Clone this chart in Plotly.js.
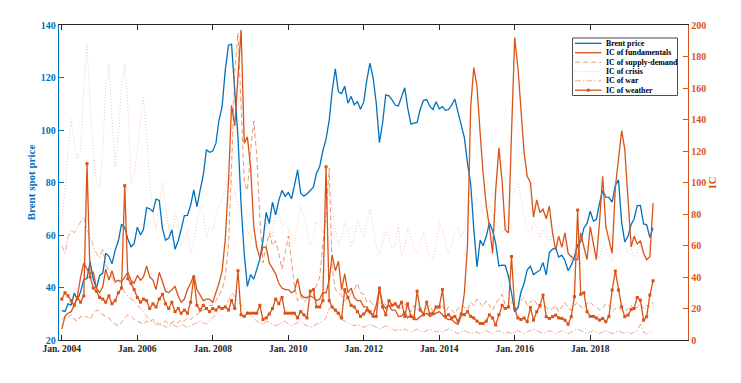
<!DOCTYPE html>
<html><head><meta charset="utf-8">
<script src="https://cdn.plot.ly/plotly-3.0.1.min.js"></script>
<style>html,body{margin:0;padding:0;background:#fff}#chart{width:741px;height:383px}</style>
</head><body><div id="chart"></div>
<script>
const startYear = 2004;
const tickLabels = ['Jan. 2004','Jan. 2006','Jan. 2008','Jan. 2010','Jan. 2012','Jan. 2014','Jan. 2016','Jan. 2018'];
const tickDates = ['2004-01-01','2006-01-01','2008-01-01','2010-01-01','2012-01-01','2014-01-01','2016-01-01','2018-01-01'];
const seriesNames = ['Brent price','IC of fundamentals','IC of supply-demand','IC of crisis','IC of war','IC of weather'];

const brent = [
31.2,30.9,33.8,33.4,37.9,35.2,38.4,43.0,43.4,49.8,43.1,39.6,
44.5,45.5,53.1,51.9,49.0,54.3,57.6,64.1,62.9,58.5,55.5,56.7,
63.0,60.0,62.1,70.4,70.0,68.9,73.7,73.2,62.5,58.0,58.8,62.0,
54.6,57.8,62.1,67.4,67.5,71.3,77.2,70.8,77.1,82.8,92.5,91.5,
92.0,95.0,103.7,109.1,122.8,132.3,132.7,113.2,97.2,71.6,52.5,40.4,
44.9,43.2,46.8,50.8,57.9,68.6,64.4,72.5,67.7,73.2,77.0,74.7,
76.2,73.8,78.8,84.8,75.9,74.8,75.6,77.1,78.2,83.5,86.1,92.0,
96.5,103.7,114.6,123.3,114.5,113.9,116.7,110.2,112.8,109.6,110.8,107.9,
110.7,119.3,125.5,119.8,110.3,95.2,102.6,113.4,113.0,111.5,109.5,109.2,
112.3,116.1,108.5,102.3,102.6,102.9,107.9,111.3,111.6,109.1,107.8,110.8,
108.1,108.9,107.5,107.8,109.5,111.8,106.8,101.6,97.1,87.4,79.4,62.3,
47.8,58.1,55.9,59.5,64.6,61.7,56.8,48.2,48.5,48.4,44.3,38.0,
30.7,32.2,38.2,41.6,46.7,48.1,44.9,45.8,46.6,49.5,44.8,53.3,
54.6,55.0,51.6,52.3,50.3,46.4,48.5,51.7,56.2,57.5,62.7,64.4,
69.1,65.3,66.0,72.1,76.9,74.4,74.3,72.5,78.9,81.0,64.8,57.4,
59.4,64.0,66.1,71.2,71.3,64.2,63.9,59.0,62.8];

const icFundamentals = [
7,15,17,18,22,28,40,49,45,42,43,33,
30,34,45,38,44,37,38,37,40,43,38,36,
41,38,40,47,40,38,32,43,37,31,30,32,
34,28,24,26,32,36,41,32,28,25,26,26,
24,30,36,44,64,100,149,136,170,197,125,129,
110,72,59,52,59,59,49,45,42,36,33,32,
32,30,31,39,29,27,27,28,27,25,26,30,
30,38,54,44,50,32,42,30,33,27,25,25,
21,21,17,16,22,33,23,20,22,19,19,15,
15,18,14,16,13,13,15,16,17,15,16,17,
18,16,14,13,13,11,10,15,30,60,148,173,
161,131,106,85,72,55,95,122,101,70,68,131,
192,173,146,119,104,100,78,89,81,83,77,85,
68,57,66,59,68,55,53,51,51,68,59,51,
72,60,51,75,104,72,63,55,97,116,133,121,
89,59,66,61,63,55,51,53,87];

const icSupplyDemand = [
13,15,14,16,13,12,15,14,15,13,17,19,
18,16,15,14,12,10,9,11,14,16,15,13,
12,11,10,12,11,13,12,10,11,12,10,11,
12,11,13,12,14,13,15,16,18,19,20,22,
22,25,28,32,40,60,110,170,195,150,100,95,
120,139,118,78,49,60,68,60,63,55,45,55,
66,50,35,25,28,24,26,30,28,35,40,60,
80,109,46,32,30,28,25,27,30,32,36,30,
29,24,25,22,20,23,25,22,20,24,22,19,
21,23,20,18,22,19,21,17,20,22,18,19,
20,22,18,21,19,17,20,22,21,19,24,22,
26,23,21,25,22,19,23,26,29,22,20,24,
23,21,25,27,22,24,26,23,20,22,21,19,
20,22,18,21,24,20,19,22,24,21,20,23,
24,22,21,19,20,23,22,18,20,21,19,18,
20,22,19,21,23,20,22,21,24];

const icCrisis = [
75,95,120,140,125,115,120,160,188,150,120,100,
97,120,160,175,140,110,130,160,175,150,100,105,
120,140,154,130,100,80,70,85,100,85,70,65,
80,75,60,65,70,55,62,75,85,80,65,72,
70,80,85,90,95,105,100,95,85,80,75,70,
65,70,60,55,60,75,70,65,85,80,72,75,
70,60,62,75,85,80,70,60,65,75,72,68,
80,97,85,70,60,65,75,68,59,65,76,70,
65,75,83,70,60,54,62,70,65,58,60,72,
53,60,71,65,58,55,62,68,60,52,51,60,
75,70,62,55,60,68,72,65,70,80,93,85,
90,88,80,78,85,80,75,72,68,70,80,90,
95,100,90,78,70,68,75,72,65,70,66,62,
68,65,60,58,62,55,50,58,52,48,55,60,
58,62,55,52,60,58,55,50,55,58,62,60,
55,58,52,56,60,55,50,52,55];

const icWar = [
60,55,65,70,68,72,75,78,70,65,60,55,
52,58,48,44,40,36,38,35,30,28,26,25,
22,20,18,15,13,12,10,9,10,8,9,10,
9,8,10,9,8,9,10,11,12,11,10,12,
14,16,18,20,22,25,30,28,25,22,20,18,
16,14,12,11,10,12,11,10,9,10,11,12,
10,9,10,11,12,10,9,8,9,10,11,12,
14,20,22,18,15,13,12,11,10,9,10,9,
8,9,10,9,8,7,8,9,8,7,6,7,
6,7,6,5,6,7,6,5,6,7,6,5,
6,5,6,7,6,5,4,5,6,5,4,5,
5,4,5,6,5,4,5,6,5,4,5,4,
5,6,5,4,5,6,7,6,5,4,5,6,
5,4,5,6,5,4,5,6,7,6,5,4,
5,6,5,4,5,6,5,4,5,6,5,4,
5,4,5,6,10,5,4,5,6];

const icWeather = [
26,30,28,25,22,27,24,28,112,40,33,31,
27,26,24,28,23,25,30,33,98,39,36,32,
27,24,26,25,20,23,21,26,29,23,20,24,
18,20,17,19,17,24,40,22,19,22,20,18,
20,19,21,20,21,19,25,20,44,16,15,17,
17,17,17,22,13,14,16.5,20,26,23,27,17,
17,17,17,14,18,16,14,31,32,21,21,25,
110,25,21,19,17,14,32,27,22,21,18,15,
16.5,19,18,15,15,33,21,16,25,22,23,21,
24,15,23,15,14,31,19,16,24,16.5,17,21,
21,32,15,16,14,15,12,16.5,16,18,15,14,
12,10.5,10.5,12,16,14,9.5,16,22,20,21,53,
20,14,13,14,11.6,20.7,12.6,18,22,28.5,14.8,13.7,
14.8,15.8,14,13.7,12.6,10,14.8,27.5,82.5,29,30,18,
15,15,14,12.6,13.7,11.6,15,31.7,43.8,31.7,21,14.8,
15.8,19.4,20,27,25.3,12.6,14.8,28.5,37.6];

function monthDates(n){
  const out=[];
  for(let i=0;i<n;i++){
    const y=startYear+Math.floor(i/12), m=(i%12)+1;
    out.push(y+'-'+(m<10?'0':'')+m+'-01');
  }
  return out;
}
const dates = monthDates(brent.length);

const BLUE='#0072BD', ORANGE='#D95319';
const FONT='"Liberation Serif", "Times New Roman", serif';
const styles = [
  {color:BLUE,width:1.3,dash:'solid'},
  {color:ORANGE,width:1.3,dash:'solid'},
  {color:'rgba(217,83,25,0.6)',width:1,dash:'5px,3px'},
  {color:'rgba(217,83,25,0.33)',width:1,dash:'1px,2px'},
  {color:'rgba(217,83,25,0.5)',width:1,dash:'6px,2px,1.5px,2px'},
  {color:ORANGE,width:1.3,dash:'solid'}
];
const seriesData = [brent,icFundamentals,icSupplyDemand,icCrisis,icWar,icWeather];

const traces = seriesData.map((d,i)=>{
  const t = {x:dates,y:d,name:seriesNames[i],type:'scatter',
    mode: i===5 ? 'lines+markers' : 'lines',
    line:Object.assign({},styles[i]),
    yaxis: i===0 ? 'y' : 'y2'};
  if(i===5) t.marker={color:ORANGE,size:3,symbol:'square'};
  return t;
});
const ordered = [traces[3],traces[4],traces[2],traces[1],traces[5],traces[0]];

// legend box drawn in paper coordinates
const plotL=59, plotT=25, plotW=629, plotH=315;
const px = v => (v-plotL)/plotW;
const py = v => 1-(v-plotT)/plotH;
const legRows = [43.3,52.7,62.2,71.6,80.9,90.2];
const shapes = [{type:'rect',xref:'paper',yref:'paper',x0:px(572.5),x1:px(677.5),y0:py(38),y1:py(95.5),
  line:{color:'#4d4d4d',width:1},fillcolor:'#fff',layer:'above'}];
const annotations = [];
legRows.forEach((r,i)=>{
  shapes.push({type:'line',xref:'paper',yref:'paper',x0:px(575),x1:px(601.5),y0:py(r),y1:py(r),
    line:Object.assign({},styles[i]),layer:'above'});
  annotations.push({xref:'paper',yref:'paper',x:px(603.5),y:py(r),xanchor:'left',yanchor:'middle',showarrow:false,
    text:'<b>'+seriesNames[i]+'</b>',font:{family:FONT,size:7.9,color:'#000'}});
});
const wr = legRows[5];
shapes.push({type:'rect',xref:'paper',yref:'paper',x0:px(586.8),x1:px(589.8),y0:py(wr-1.5),y1:py(wr+1.5),
  line:{width:0},fillcolor:ORANGE,layer:'above'});

const layout = {
  width:741,height:383,
  margin:{l:59,r:53,t:25,b:43,pad:0},
  paper_bgcolor:'#fff',plot_bgcolor:'#fff',
  font:{family:FONT,size:10,color:'#262626'},
  showlegend:false,
  shapes:shapes, annotations:annotations,
  xaxis:{type:'date',range:['2003-12-05','2020-08-04'],tickvals:tickDates,ticktext:tickLabels.map(t=>'<b>'+t+'</b>'),
    ticks:'inside',ticklen:5,tickcolor:'#262626',showline:true,linecolor:'#262626',linewidth:1,mirror:'ticks',
    showgrid:false,zeroline:false,tickfont:{family:FONT,size:9.5,color:'#262626'}},
  yaxis:{range:[20,140],dtick:20,tick0:20,ticks:'inside',ticklen:5,tickcolor:BLUE,showline:true,linecolor:BLUE,linewidth:1.3,
    showgrid:false,zeroline:false,tickfont:{family:FONT,size:10,color:BLUE},tickprefix:'<b>',ticksuffix:'</b>',
    title:{text:'<b>Brent spot price</b>',font:{family:FONT,size:11,color:BLUE},standoff:3}},
  yaxis2:{range:[0,200],dtick:20,tick0:0,overlaying:'y',side:'right',ticks:'inside',ticklen:5,tickcolor:ORANGE,showline:true,linecolor:ORANGE,linewidth:1.3,
    showgrid:false,zeroline:false,tickfont:{family:FONT,size:10,color:ORANGE},tickprefix:'<b>',ticksuffix:'</b>',
    title:{text:'<b>IC</b>',font:{family:FONT,size:11,color:ORANGE},standoff:3}}
};
Plotly.newPlot('chart',ordered,layout,{displayModeBar:false,staticPlot:true});
</script></body></html>
